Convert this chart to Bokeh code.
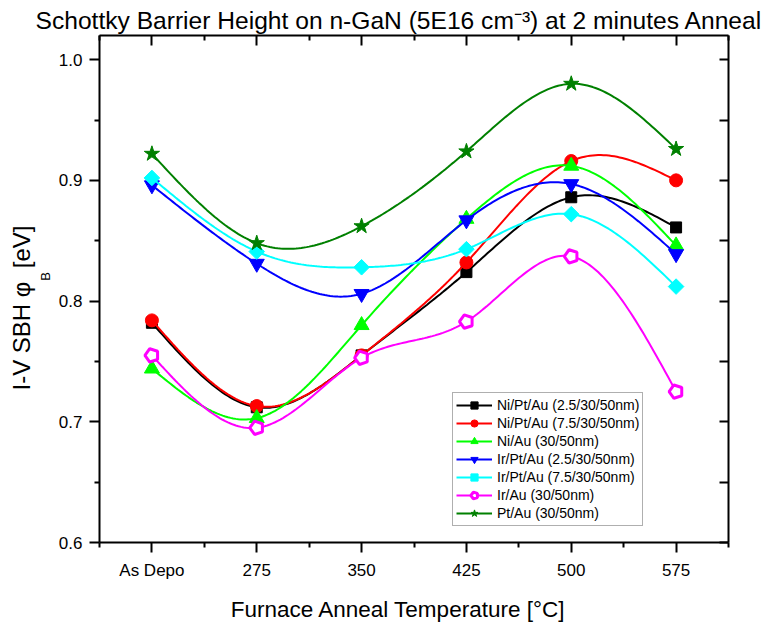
import numpy as np
from bokeh.plotting import figure
from bokeh.models import (FixedTicker, LinearAxis, Range1d, Legend, LegendItem, Title,
                          CustomLabelingPolicy)
from bokeh.embed import file_html
from bokeh.resources import INLINE

# ---------------- data ----------------
categories = ["As Depo", "275", "350", "425", "500", "575"]
ni_pt_au_25 = [0.782, 0.712, 0.755, 0.824, 0.886, 0.861]
ni_pt_au_75 = [0.784, 0.713, 0.755, 0.832, 0.916, 0.900]
ni_au = [0.744, 0.703, 0.780, 0.868, 0.912, 0.846]
ir_pt_au_25 = [0.896, 0.831, 0.806, 0.867, 0.897, 0.839]
ir_pt_au_75 = [0.902, 0.841, 0.828, 0.843, 0.872, 0.812]
ir_au = [0.755, 0.695, 0.753, 0.783, 0.837, 0.725]
pt_au = [0.922, 0.848, 0.862, 0.924, 0.980, 0.926]
series_names = [
    "Ni/Pt/Au (2.5/30/50nm)", "Ni/Pt/Au (7.5/30/50nm)", "Ni/Au (30/50nm)",
    "Ir/Pt/Au (2.5/30/50nm)", "Ir/Pt/Au (7.5/30/50nm)", "Ir/Au (30/50nm)",
    "Pt/Au (30/50nm)",
]
y_ticks = [0.6, 0.7, 0.8, 0.9, 1.0]
y_minor = [0.65, 0.75, 0.85, 0.95]

FONT = "Liberation Sans"
NB = "\u00a0"


def spline(xs, ys, per=40):
    """Natural cubic spline through the data points (line shape only)."""
    xs = np.asarray(xs, float)
    ys = np.asarray(ys, float)
    n = len(xs)
    h = np.diff(xs)
    A = np.zeros((n, n))
    b = np.zeros(n)
    A[0, 0] = 1.0
    A[-1, -1] = 1.0
    for i in range(1, n - 1):
        A[i, i - 1] = h[i - 1]
        A[i, i] = 2 * (h[i - 1] + h[i])
        A[i, i + 1] = h[i]
        b[i] = 6 * ((ys[i + 1] - ys[i]) / h[i] - (ys[i] - ys[i - 1]) / h[i - 1])
    M = np.linalg.solve(A, b)
    ox, oy = [], []
    for i in range(n - 1):
        t = np.linspace(xs[i], xs[i + 1], per, endpoint=(i == n - 2))
        a = xs[i + 1] - t
        c = t - xs[i]
        y = (M[i] * a ** 3 + M[i + 1] * c ** 3) / (6 * h[i]) \
            + (ys[i] / h[i] - M[i] * h[i] / 6) * a \
            + (ys[i + 1] / h[i] - M[i + 1] * h[i] / 6) * c
        ox.extend(t.tolist())
        oy.extend(y.tolist())
    return ox, oy


x_idx = list(range(len(categories)))
x_minor = [-0.5, 0.5, 1.5, 2.5, 3.5, 4.5, 5.5]

p = figure(width=778, height=630, x_range=Range1d(-0.5, 5.5), y_range=Range1d(0.6, 1.02),
           output_backend="svg", toolbar_location=None,
           min_border_left=99, min_border_right=50, min_border_top=35, min_border_bottom=88)
p.grid.visible = False
p.outline_line_color = None
p.background_fill_color = "white"
p.border_fill_color = "white"

# axes
xa = p.xaxis[0]
xa.ticker = FixedTicker(ticks=x_idx, minor_ticks=x_minor)
xa.major_label_overrides = {i: c for i, c in zip(x_idx, categories)}
ya = p.yaxis[0]
ya.ticker = FixedTicker(ticks=y_ticks, minor_ticks=y_minor)
ya.major_label_overrides = {t: f"{t:.1f}" for t in y_ticks}
for ax in (xa, ya):
    ax.axis_line_width = 2
    ax.axis_line_color = "black"
    ax.major_tick_line_width = 2
    ax.minor_tick_line_width = 2
    ax.major_tick_in = 0
    ax.major_tick_out = 10
    ax.minor_tick_in = 0
    ax.minor_tick_out = 5
    ax.major_label_text_font = FONT
    ax.major_label_text_font_size = "17px"
    ax.major_label_text_color = "black"
xa.major_label_standoff = 8
ya.major_label_standoff = 7

# x title (trailing no-break spaces shift the visible text left of the frame centre)
xa.axis_label = "Furnace Anneal Temperature [°C]" + NB * 5
xa.axis_label_text_font = FONT
xa.axis_label_text_font_size = "22.5px"
xa.axis_label_text_font_style = "normal"
xa.axis_label_text_color = "black"
xa.axis_label_standoff = 14

# subscript "B" of the y title, as the y axis' own label
ya.axis_label = NB * 7 + "B"
ya.axis_label_text_font = FONT
ya.axis_label_text_font_size = "13px"
ya.axis_label_text_font_style = "normal"
ya.axis_label_text_color = "black"
ya.axis_label_standoff = 3

top = LinearAxis(ticker=FixedTicker(ticks=x_idx, minor_ticks=x_minor),
                 major_tick_in=10, major_tick_out=0, minor_tick_in=5, minor_tick_out=0,
                 axis_line_width=2, major_tick_line_width=2, minor_tick_line_width=2,
                 major_label_text_font_size="0px", major_label_standoff=0,
                 major_label_policy=CustomLabelingPolicy(
                     code="for (const i of indices) { indices.unset(i) } return indices"))
right = LinearAxis(ticker=FixedTicker(ticks=y_ticks + y_minor),
                   major_tick_in=9, major_tick_out=0, minor_tick_in=0, minor_tick_out=0,
                   axis_line_width=2, major_tick_line_width=2,
                   major_label_text_font_size="0px", major_label_standoff=0,
                   major_label_policy=CustomLabelingPolicy(
                       code="for (const i of indices) { indices.unset(i) } return indices"))
p.add_layout(top, "above")
p.add_layout(right, "right")

# series
all_series = [ni_pt_au_25, ni_pt_au_75, ni_au, ir_pt_au_25, ir_pt_au_75, ir_au, pt_au]
colors = ["black", "#FF0000", "#00FF00", "#0000FF", "#00FFFF", "#FF00FF", "#008000"]
markers = ["square", "circle", "triangle", "inverted_triangle", "diamond", "pentagon", "star"]
sizes = [11, 13, 15, 15, 11, 12, 16]

items = []
for vals, col, mk, sz, name in zip(all_series, colors, markers, sizes, series_names):
    sx, sy = spline(x_idx, vals)
    lr = p.line(sx, sy, line_color=col, line_width=2)
    if mk == "pentagon":
        mr = p.ngon(x=x_idx, y=vals, radius=7, radius_units="screen", n=5,
                    angle=np.pi / 2, fill_color="white", line_color=col, line_width=3)
    elif mk == "diamond":
        mr = p.scatter(x_idx, vals, marker="square", size=sz, angle=np.pi / 4,
                       fill_color=col, line_color=col)
    else:
        mr = p.scatter(x_idx, vals, marker=mk, size=sz, fill_color=col, line_color=col)
    items.append(LegendItem(label=name, renderers=[lr, mr]))

legend = Legend(items=items, location=(353, 16), orientation="vertical",
                label_text_font=FONT, label_text_font_size="14px", label_text_color="black",
                glyph_width=36, glyph_height=18, label_height=18, spacing=0,
                padding=3, margin=0, label_standoff=5,
                border_line_color="#606060", border_line_width=1,
                background_fill_color="white", background_fill_alpha=1.0)
p.add_layout(legend)

# main title
title = Title(text="Schottky Barrier Height on n-GaN (5E16 cm\u207b\u00b3) at 2 minutes Anneal",
              align="left", offset=-64, standoff=4,
              text_font=FONT, text_font_size="24.6px", text_font_style="normal",
              text_color="black")
p.add_layout(title, "above")

# y title (the subscript B sits between φ and [eV], drawn by the axis label)
ytitle = Title(text="I-V SBH \u03c6" + NB * 2 + "[eV]",
               align="left", offset=152, standoff=0,
               text_font=FONT, text_font_size="24px", text_font_style="normal",
               text_color="black")
p.add_layout(ytitle, "left")

open("out.html", "w").write(file_html(p, INLINE))
